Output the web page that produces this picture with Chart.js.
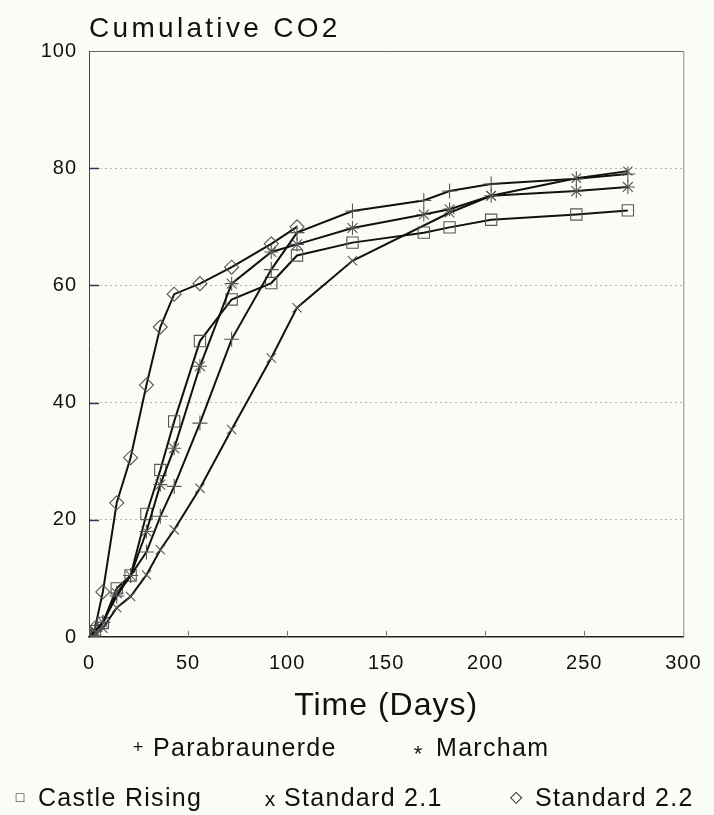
<!DOCTYPE html>
<html><head><meta charset="utf-8">
<script src="https://cdn.jsdelivr.net/npm/chart.js@4.4.1/dist/chart.umd.min.js"></script>
<style>html,body{margin:0;padding:0;background:#fcfcf7;}canvas{display:block;}</style>
</head><body>
<canvas id="c" width="714" height="815"></canvas>
<script>
// ---- data ----
const days = [0, 1, 3, 7, 14, 21, 29, 36, 43, 56, 72, 92, 105, 133, 169, 182, 203, 246, 272];
const parabraunerde = [0, 0.3, 1.0, 2.5, 7.0, 10.5, 14.5, 20.6, 25.7, 36.5, 50.8, 62.7, 69.0, 72.7, 74.5, 76.1, 77.3, 78.2, 79.0];
const marcham      = [0, 0.3, 1.0, 2.5, 7.5, 10.5, 18.0, 26.0, 32.2, 46.2, 60.3, 65.7, 67.0, 69.8, 72.1, 73.0, 75.3, 76.1, 76.8];
const castleRising = [0, 0.3, 1.0, 2.4, 8.3, 10.5, 21.0, 28.5, 36.8, 50.5, 57.6, 60.4, 65.1, 67.3, 69.0, 69.9, 71.2, 72.1, 72.8];
const standard21   = [0, 0.2, 0.5, 1.5, 5.0, 6.9, 10.6, 14.9, 18.3, 25.4, 35.4, 47.6, 56.2, 64.2, null, 72.4, 75.3, 78.3, 79.5];
const standard22   = [0, 0.5, 1.5, 7.7, 22.9, 30.6, 43.0, 52.9, 58.5, 60.3, 63.1, 67.1, 70.0, null, null, null, null, null, null];
const seriesNames  = ['Parabraunerde', 'Marcham', 'Castle Rising', 'Standard 2.1', 'Standard 2.2'];
const legendMarks  = ['+', '*', '\u25A1', 'x', '\u25C7'];
const xTicks = [0, 50, 100, 150, 200, 250, 300];
const yTicks = [0, 20, 40, 60, 80, 100];
const chartTitle = 'Cumulative CO2';
const xTitle = 'Time (Days)';

// ---- drawing ----
const FONT = '"Liberation Sans", Arial, Helvetica, sans-serif';
const BG = '#fcfcf7';
Chart.defaults.font.family = FONT;
Chart.defaults.color = '#111';

const allValues = [parabraunerde, marcham, castleRising, standard21, standard22];
const pointStyles = ['cross', 'star', 'rect', 'crossRot', 'rectRot'];
const pointSizes = [7.5, 7, 8, 6.5, 7];

function toPoints(vals) {
  return days.map((d, i) => ({ x: d, y: vals[i] })).filter(p => p.y !== null);
}

const datasets = seriesNames.map((name, i) => ({
  label: name,
  data: toPoints(allValues[i]),
  borderColor: '#111',
  borderWidth: 2,
  pointStyle: pointStyles[i],
  pointRadius: pointSizes[i],
  pointHoverRadius: pointSizes[i],
  pointBorderColor: '#555',
  pointBorderWidth: 1.1,
  pointBackgroundColor: 'rgba(0,0,0,0)',
  tension: 0,
  fill: false
}));

const deco = {
  id: 'deco',
  beforeDraw(chart) {
    const c = chart.ctx;
    c.save();
    c.fillStyle = BG;
    c.fillRect(0, 0, chart.width, chart.height);
    c.restore();
    c.letterSpacing = '1px';
  },
  afterDraw(chart) {
    const c = chart.ctx;
    const a = chart.chartArea;
    const xs = chart.scales.x, ys = chart.scales.y;
    c.save();
    // right frame line
    c.strokeStyle = '#888';
    c.lineWidth = 1;
    c.beginPath();
    c.moveTo(a.right + 0.5, a.top);
    c.lineTo(a.right + 0.5, a.bottom);
    c.stroke();
    // inward ticks on y
    c.strokeStyle = '#2a3a5a';
    c.lineWidth = 1.5;
    yTicks.filter(v => v > 0 && v < 100).forEach(v => {
      const py = Math.round(ys.getPixelForValue(v)) + 0.5;
      c.beginPath(); c.moveTo(a.left, py); c.lineTo(a.left + 10, py); c.stroke();
    });
    // inward ticks on x
    c.strokeStyle = '#777';
    c.lineWidth = 1;
    xTicks.filter(v => v > 0 && v < 300).forEach(v => {
      const px = Math.round(xs.getPixelForValue(v)) + 0.5;
      c.beginPath(); c.moveTo(px, a.bottom); c.lineTo(px, a.bottom - 6); c.stroke();
    });
    // title
    c.fillStyle = '#111';
    c.textAlign = 'left';
    c.textBaseline = 'alphabetic';
    c.font = '28px ' + FONT;
    c.letterSpacing = '3.3px';
    c.fillText(chartTitle, a.left, 37);
    // legend
    const entries = [
      { mx: 138, tx: 153, y: 756 },
      { mx: 418, tx: 436, y: 756 },
      { mx: 20,  tx: 38,  y: 806 },
      { mx: 270, tx: 284, y: 806 },
      { mx: 516, tx: 535, y: 806 }
    ];
    const markFonts = ['18px', '22px', '14px', '21px', '16px'];
    entries.forEach((e, i) => {
      c.letterSpacing = '0px';
      c.textAlign = 'center';
      c.font = markFonts[i] + ' ' + FONT;
      if (i === 1) { c.textBaseline = 'alphabetic'; c.fillText(legendMarks[i], e.mx, e.y + 5); }
      else if (i === 3) { c.textBaseline = 'alphabetic'; c.fillText(legendMarks[i], e.mx, e.y); }
      else { c.textBaseline = 'middle'; c.fillText(legendMarks[i], e.mx, e.y - 8); }
      c.textAlign = 'left';
      c.textBaseline = 'alphabetic';
      c.font = '25px ' + FONT;
      c.letterSpacing = '1.3px';
      c.fillText(seriesNames[i], e.tx, e.y);
    });
    c.restore();
  }
};

new Chart(document.getElementById('c'), {
  type: 'line',
  data: { datasets },
  options: {
    responsive: false,
    animation: false,
    events: [],
    layout: { padding: { left: 0, top: 51, right: 26, bottom: 90 } },
    plugins: { legend: { display: false }, title: { display: false }, tooltip: { enabled: false } },
    scales: {
      x: {
        type: 'linear', min: 0, max: 300,
        afterBuildTicks: s => { s.ticks = xTicks.map(v => ({ value: v })); },
        afterFit: s => { s.height = 88; },
        grid: { display: false, drawTicks: false },
        border: { display: true, color: '#222', width: 1.5 },
        ticks: { padding: 14, font: { size: 20 }, color: '#111', maxRotation: 0, autoSkip: false },
        title: { display: true, text: xTitle, font: { size: 32 }, color: '#111', padding: { top: 0, bottom: 0 } }
      },
      y: {
        type: 'linear', min: 0, max: 100,
        afterBuildTicks: s => { s.ticks = yTicks.map(v => ({ value: v })); },
        afterFit: s => { s.width = 89; },
        grid: {
          drawTicks: false, lineWidth: 1,
          color: ctx => ctx.tick && ctx.tick.value === 100 ? '#666' : (ctx.tick && ctx.tick.value === 0 ? 'rgba(0,0,0,0)' : '#b5b5b0')
        },
        border: {
          display: true, color: '#444', width: 1,
          dash: ctx => (ctx.tick && ctx.tick.value > 0 && ctx.tick.value < 100) ? [2, 3] : []
        },
        ticks: { padding: 12, font: { size: 20 }, color: '#111', autoSkip: false }
      }
    }
  },
  plugins: [deco]
});
</script>
</body></html>
